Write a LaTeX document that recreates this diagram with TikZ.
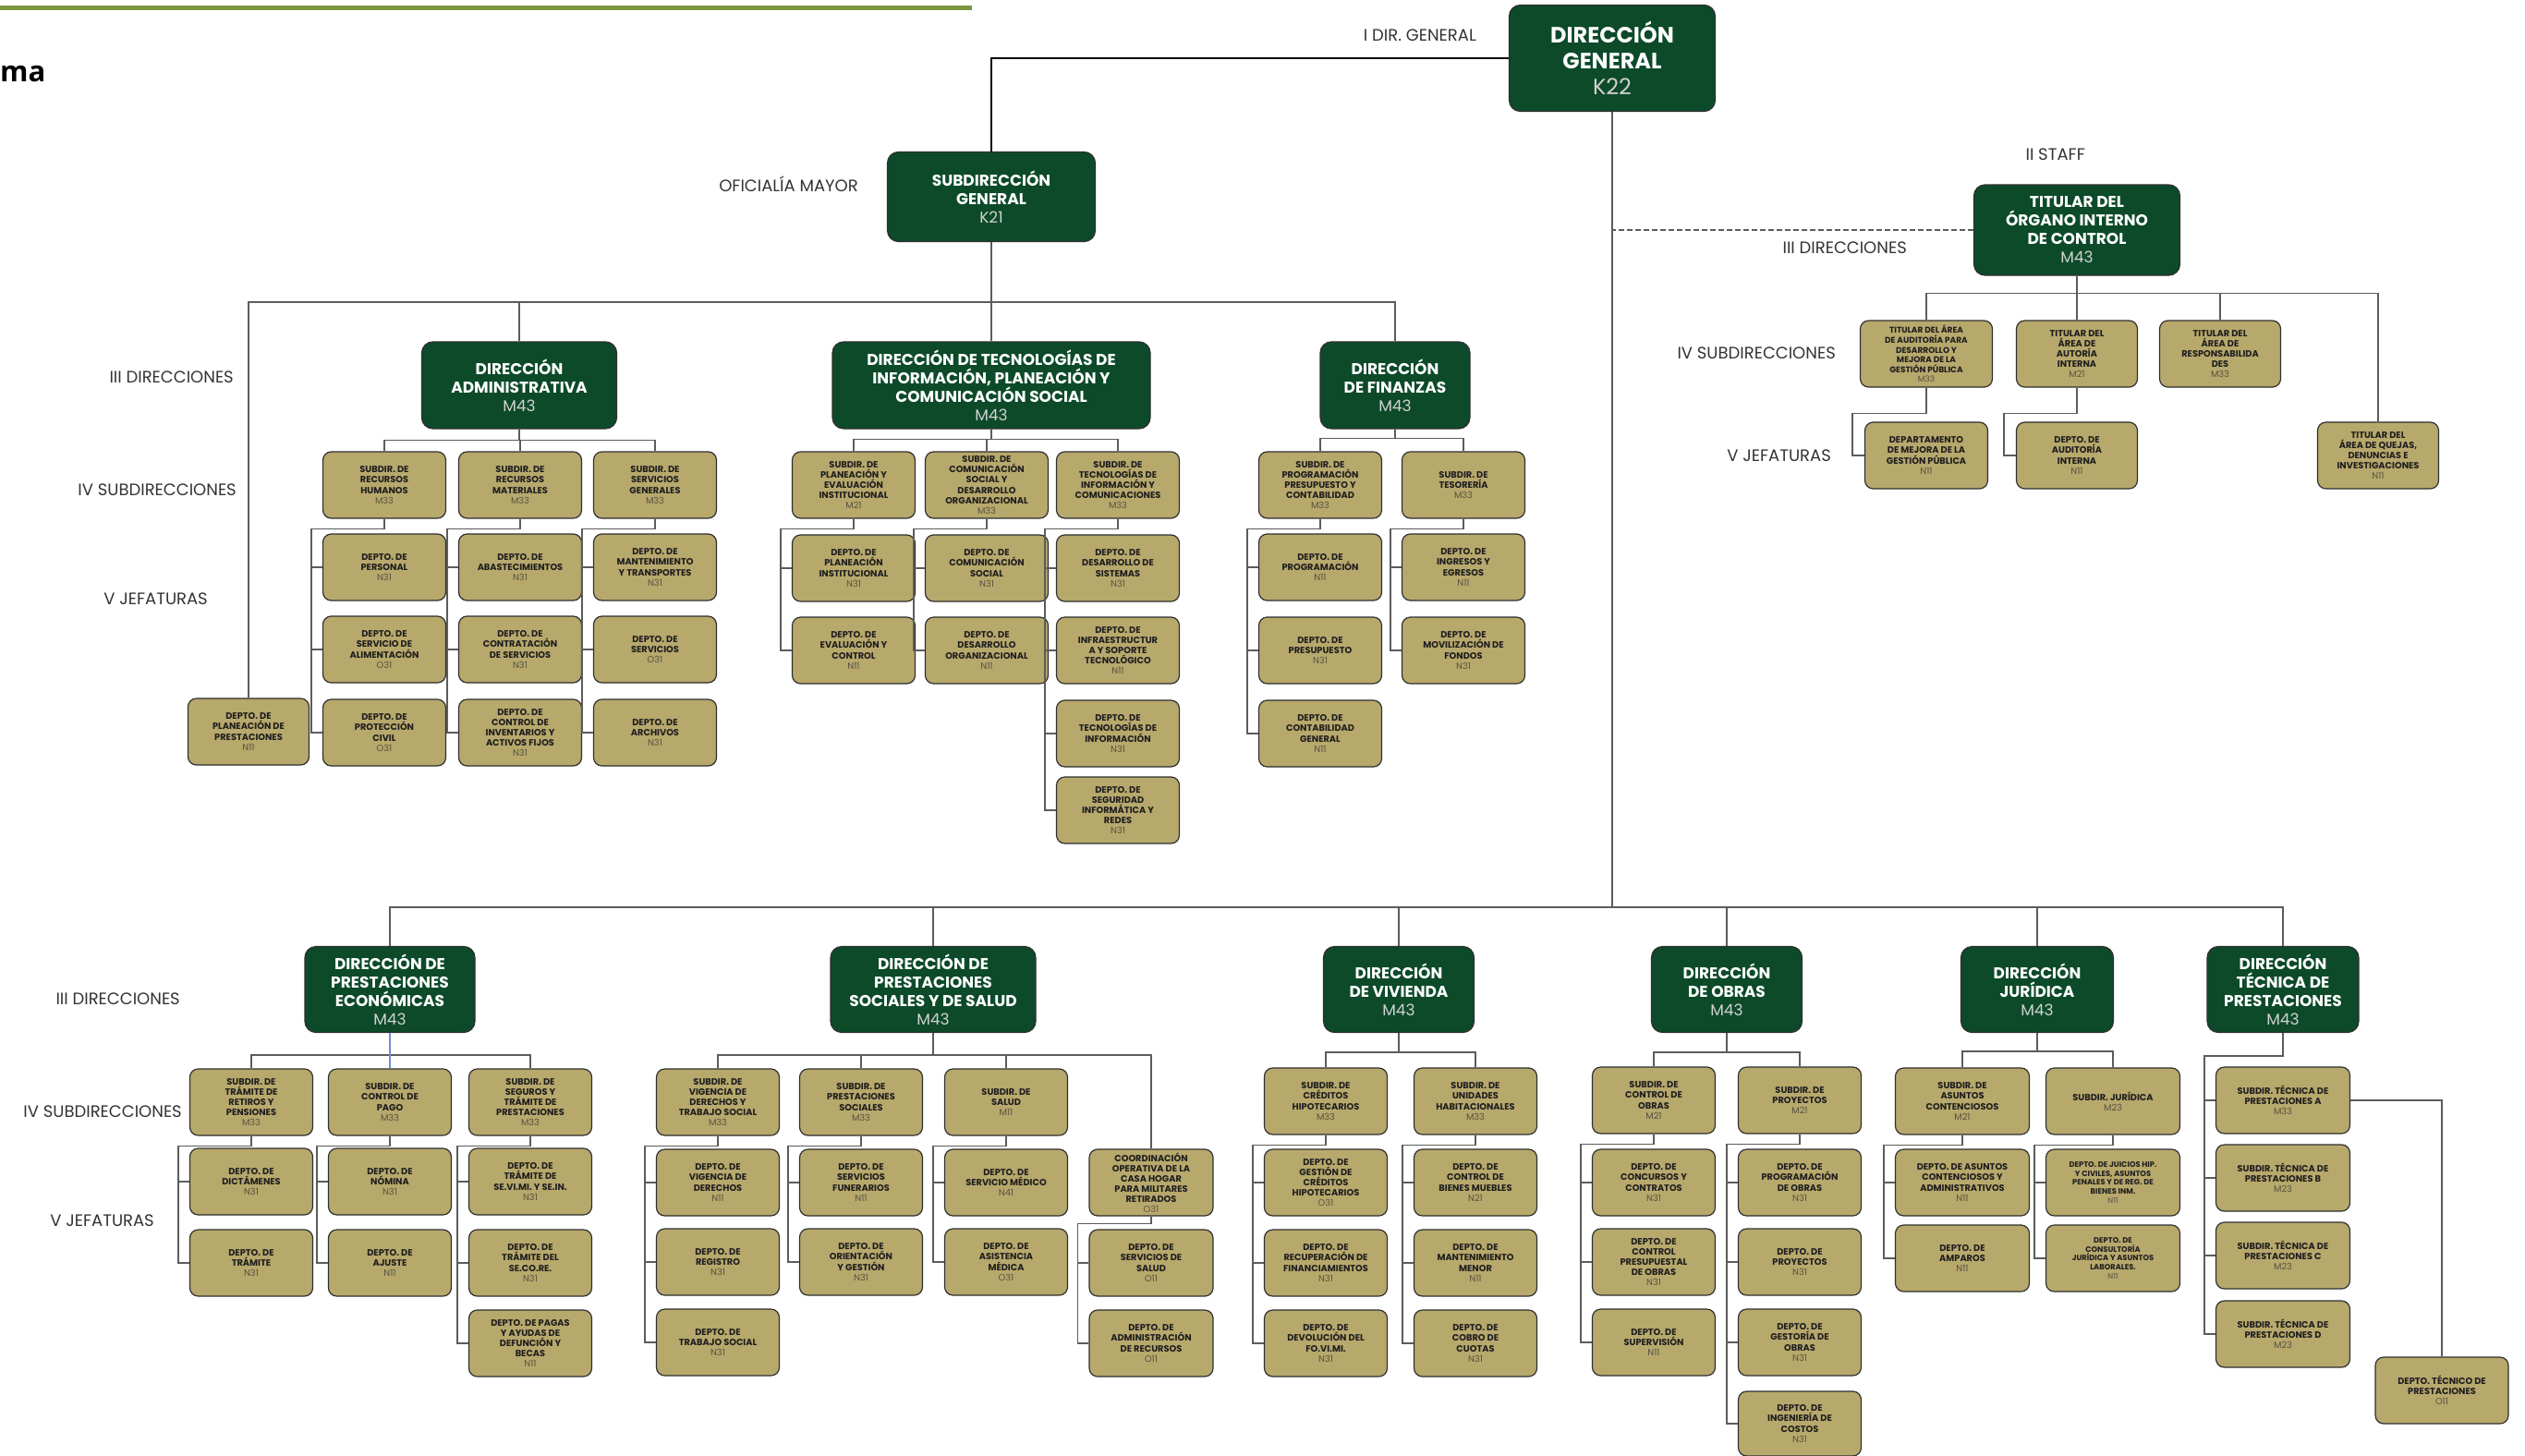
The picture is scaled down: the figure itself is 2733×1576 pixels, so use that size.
\documentclass[tikz,border=0pt]{standalone}
\usepackage{fontspec}
\setmainfont{Poppins}
\newfontfamily\osans{Open Sans}
\usetikzlibrary{calc}
\definecolor{boxtan}{HTML}{B7A86C}
\definecolor{dgreen}{HTML}{0C4A2A}
\definecolor{bdr}{HTML}{2F2F2F}
\definecolor{lgray}{HTML}{5C5C5C}
\definecolor{codegray}{HTML}{57533F}
\definecolor{txt}{HTML}{1E1E1E}
\definecolor{lbltxt}{HTML}{333333}
\definecolor{titlegreen}{HTML}{7A963F}
\definecolor{bluel}{HTML}{6D8FD8}
\newcommand\cde[1]{\\{\mdseries\color{codegray}#1}}
\newcommand\gcode[1]{\\{\mdseries\color{white!82!black}#1}}
\newcommand\dlist[4][11]{%
  \draw[conn] (#2.south) -- ++(0,#1) -| ([xshift=-12pt]#3.west) -- (#3.west);
  \foreach \dd in {#4} {\draw[conn] ([xshift=-12pt]\dd.west) -- (\dd.west);}
}
\begin{document}
\begin{tikzpicture}[x=1pt,y=-1pt,
  tb/.style={draw=bdr, line width=1.2pt, fill=boxtan, rounded corners=9pt,
    minimum width=133pt, minimum height=72pt, inner sep=1pt, align=center,
    font=\fontsize{9.8}{11.1}\selectfont\bfseries, text=txt},
  tbs/.style={tb, font=\fontsize{8.3}{9.8}\selectfont\bfseries},
  gb/.style={draw=bdr, line width=1.2pt, fill=dgreen, rounded corners=12pt,
    align=center, text=white, font=\fontsize{17}{20}\selectfont\bfseries, inner sep=2pt},
  conn/.style={draw=lgray, line width=1.6pt},
  topline/.style={draw=black, line width=2pt},
  lbl/.style={font=\fontsize{18}{20}\selectfont, text=lbltxt, anchor=east, inner sep=0pt}]
\useasboundingbox (0,0) rectangle (2733,1576);
\fill[white] (0,0) rectangle (2733,1576);
\draw[line width=5pt, titlegreen] (0,9) -- (1052,9);
\node[anchor=west, inner sep=0pt, font=\osans\bfseries\fontsize{31}{34}\selectfont] (ttl) at (0,80) {ma};

% ---------- labels
\node[lbl] (l1) at (1598,38) {I DIR. GENERAL};
\node[lbl] (l2) at (929,199) {OFICIALÍA MAYOR};
\node[lbl] (l3) at (2257,167) {II STAFF};
\node[lbl] (l4) at (2064,268) {III DIRECCIONES};
\node[lbl] (l5) at (253,408) {III DIRECCIONES};
\node[lbl] (l6) at (256,530) {IV SUBDIRECCIONES};
\node[lbl] (l7) at (225,648) {V JEFATURAS};
\node[lbl] (l8) at (1987,382) {IV SUBDIRECCIONES};
\node[lbl] (l9) at (1982,493) {V JEFATURAS};
\node[lbl] (l10) at (195,1081) {III DIRECCIONES};
\node[lbl] (l11) at (197,1203) {IV SUBDIRECCIONES};
\node[lbl] (l12) at (167,1321) {V JEFATURAS};

% ---------- top green boxes
\node[gb, minimum width=223pt, minimum height=115pt, font=\fontsize{24}{28}\selectfont\bfseries] (dg) at (1745,63) {DIRECCIÓN\\GENERAL\gcode{K22}};
\node[gb, minimum width=225pt, minimum height=97pt] (sg) at (1073,213) {SUBDIRECCIÓN\\GENERAL\gcode{K21}};
\node[gb, minimum width=223pt, minimum height=98pt] (oic) at (2248,249) {TITULAR DEL\\ÓRGANO INTERNO\\DE CONTROL\gcode{M43}};
\node[gb, minimum width=211pt, minimum height=94pt] (adm) at (562,417) {DIRECCIÓN\\ADMINISTRATIVA\gcode{M43}};
\node[gb, minimum width=344pt, minimum height=94pt] (dti) at (1073,417) {DIRECCIÓN DE TECNOLOGÍAS DE\\INFORMACIÓN, PLANEACIÓN Y\\COMUNICACIÓN SOCIAL\gcode{M43}};
\node[gb, minimum width=162pt, minimum height=94pt] (fin) at (1510,417) {DIRECCIÓN\\DE FINANZAS\gcode{M43}};

% ---------- administrativa
\node[tb, minimum width=131pt] (pp) at (269,792) {DEPTO. DE\\PLANEACIÓN DE\\PRESTACIONES\cde{N11}};
\node[tb] (a1) at (416,525) {SUBDIR. DE\\RECURSOS\\HUMANOS\cde{M33}};
\node[tb] (a2) at (563,525) {SUBDIR. DE\\RECURSOS\\MATERIALES\cde{M33}};
\node[tb] (a3) at (709,525) {SUBDIR. DE\\SERVICIOS\\GENERALES\cde{M33}};
\node[tb] (a1a) at (416,614) {DEPTO. DE\\PERSONAL\cde{N31}};
\node[tb] (a1b) at (416,703) {DEPTO. DE\\SERVICIO DE\\ALIMENTACIÓN\cde{O31}};
\node[tb] (a1c) at (416,793) {DEPTO. DE\\PROTECCIÓN\\CIVIL\cde{O31}};
\node[tb] (a2a) at (563,614) {DEPTO. DE\\ABASTECIMIENTOS\cde{N31}};
\node[tb] (a2b) at (563,703) {DEPTO. DE\\CONTRATACIÓN\\DE SERVICIOS\cde{N31}};
\node[tb] (a2c) at (563,793) {DEPTO. DE\\CONTROL DE\\INVENTARIOS Y\\ACTIVOS FIJOS\cde{N31}};
\node[tb] (a3a) at (709,614) {DEPTO. DE\\MANTENIMIENTO\\Y TRANSPORTES\cde{N31}};
\node[tb] (a3b) at (709,703) {DEPTO. DE\\SERVICIOS\cde{O31}};
\node[tb] (a3c) at (709,793) {DEPTO. DE\\ARCHIVOS\cde{N31}};

% ---------- tecnologias
\node[tb] (t1) at (924,525) {SUBDIR. DE\\PLANEACIÓN Y\\EVALUACIÓN\\INSTITUCIONAL\cde{M21}};
\node[tb] (t2) at (1068,525) {SUBDIR. DE\\COMUNICACIÓN\\SOCIAL Y\\DESARROLLO\\ORGANIZACIONAL\cde{M33}};
\node[tb] (t3) at (1210,525) {SUBDIR. DE\\TECNOLOGÍAS DE\\INFORMACIÓN Y\\COMUNICACIONES\cde{M33}};
\node[tb] (t1a) at (924,615) {DEPTO. DE\\PLANEACIÓN\\INSTITUCIONAL\cde{N31}};
\node[tb] (t1b) at (924,704) {DEPTO. DE\\EVALUACIÓN Y\\CONTROL\cde{N11}};
\node[tb] (t2a) at (1068,615) {DEPTO. DE\\COMUNICACIÓN\\SOCIAL\cde{N31}};
\node[tb] (t2b) at (1068,704) {DEPTO. DE\\DESARROLLO\\ORGANIZACIONAL\cde{N11}};
\node[tb] (t3a) at (1210,615) {DEPTO. DE\\DESARROLLO DE\\SISTEMAS\cde{N31}};
\node[tb] (t3b) at (1210,704) {DEPTO. DE\\INFRAESTRUCTUR\\A Y SOPORTE\\TECNOLÓGICO\cde{N11}};
\node[tb] (t3c) at (1210,794) {DEPTO. DE\\TECNOLOGÍAS DE\\INFORMACIÓN\cde{N31}};
\node[tb] (t3d) at (1210,877) {DEPTO. DE\\SEGURIDAD\\INFORMÁTICA Y\\REDES\cde{N31}};

% ---------- finanzas
\node[tb] (f1) at (1429,525) {SUBDIR. DE\\PROGRAMACIÓN\\PRESUPUESTO Y\\CONTABILIDAD\cde{M33}};
\node[tb] (f2) at (1584,525) {SUBDIR. DE\\TESORERÍA\cde{M33}};
\node[tb] (f1a) at (1429,614) {DEPTO. DE\\PROGRAMACIÓN\cde{N11}};
\node[tb] (f1b) at (1429,704) {DEPTO. DE\\PRESUPUESTO\cde{N31}};
\node[tb] (f1c) at (1429,794) {DEPTO. DE\\CONTABILIDAD\\GENERAL\cde{N11}};
\node[tb] (f2a) at (1584,614) {DEPTO. DE\\INGRESOS Y\\EGRESOS\cde{N11}};
\node[tb] (f2b) at (1584,704) {DEPTO. DE\\MOVILIZACIÓN DE\\FONDOS\cde{N31}};

% ---------- organo interno de control
\node[tb, minimum width=143pt, font=\fontsize{9}{10.6}\selectfont\bfseries] (o1) at (2085,383) {TITULAR DEL ÁREA\\DE AUDITORÍA PARA\\DESARROLLO Y\\MEJORA DE LA\\GESTIÓN PÚBLICA\cde{M33}};
\node[tb, minimum width=131pt] (o2) at (2248,383) {TITULAR DEL\\ÁREA DE\\AUTORÍA\\INTERNA\cde{M21}};
\node[tb, minimum width=131pt] (o3) at (2403,383) {TITULAR DEL\\ÁREA DE\\RESPONSABILIDA\\DES\cde{M33}};
\node[tb] (oj1) at (2085,493) {DEPARTAMENTO\\DE MEJORA DE LA\\GESTIÓN PÚBLICA\cde{N11}};
\node[tb, minimum width=131pt] (oj2) at (2248,493) {DEPTO. DE\\AUDITORÍA\\INTERNA\cde{N11}};
\node[tb, minimum width=131pt] (o4) at (2574,493) {TITULAR DEL\\ÁREA DE QUEJAS,\\DENUNCIAS E\\INVESTIGACIONES\cde{N11}};

% ---------- bottom green boxes
\node[gb, minimum width=184pt, minimum height=93pt] (pe) at (422,1071) {DIRECCIÓN DE\\PRESTACIONES\\ECONÓMICAS\gcode{M43}};
\node[gb, minimum width=222pt, minimum height=93pt] (ps) at (1010,1071) {DIRECCIÓN DE\\PRESTACIONES\\SOCIALES Y DE SALUD\gcode{M43}};
\node[gb, minimum width=163pt, minimum height=93pt] (vi) at (1514,1071) {DIRECCIÓN\\DE VIVIENDA\gcode{M43}};
\node[gb, minimum width=163pt, minimum height=93pt] (ob) at (1869,1071) {DIRECCIÓN\\DE OBRAS\gcode{M43}};
\node[gb, minimum width=165pt, minimum height=93pt] (ju) at (2205,1071) {DIRECCIÓN\\JURÍDICA\gcode{M43}};
\node[gb, minimum width=164pt, minimum height=93pt] (te) at (2471,1071) {DIRECCIÓN\\TÉCNICA DE\\PRESTACIONES\gcode{M43}};

% ---------- prestaciones economicas
\node[tb] (pe1) at (272,1193) {SUBDIR. DE\\TRÁMITE DE\\RETIROS Y\\PENSIONES\cde{M33}};
\node[tb] (pe2) at (422,1193) {SUBDIR. DE\\CONTROL DE\\PAGO\cde{M33}};
\node[tb] (pe3) at (574,1193) {SUBDIR. DE\\SEGUROS Y\\TRÁMITE DE\\PRESTACIONES\cde{M33}};
\node[tb] (pe1a) at (272,1279) {DEPTO. DE\\DICTÁMENES\cde{N31}};
\node[tb] (pe1b) at (272,1367) {DEPTO. DE\\TRÁMITE\cde{N31}};
\node[tb] (pe2a) at (422,1279) {DEPTO. DE\\NÓMINA\cde{N31}};
\node[tb] (pe2b) at (422,1367) {DEPTO. DE\\AJUSTE\cde{N11}};
\node[tb] (pe3a) at (574,1279) {DEPTO. DE\\TRÁMITE DE\\SE.VI.MI. Y SE.IN.\cde{N31}};
\node[tb] (pe3b) at (574,1367) {DEPTO. DE\\TRÁMITE DEL\\SE.CO.RE.\cde{N31}};
\node[tb] (pe3c) at (574,1454) {DEPTO. DE PAGAS\\Y AYUDAS DE\\DEFUNCIÓN Y\\BECAS\cde{N11}};

% ---------- prestaciones sociales
\node[tb] (ps1) at (777,1193) {SUBDIR. DE\\VIGENCIA DE\\DERECHOS Y\\TRABAJO SOCIAL\cde{M33}};
\node[tb] (ps2) at (932,1193) {SUBDIR. DE\\PRESTACIONES\\SOCIALES\cde{M33}};
\node[tb] (ps3) at (1089,1193) {SUBDIR. DE\\SALUD\cde{M11}};
\node[tb, minimum width=134pt] (ps4) at (1246,1280) {COORDINACIÓN\\OPERATIVA DE LA\\CASA HOGAR\\PARA MILITARES\\RETIRADOS\cde{O31}};
\node[tb] (ps1a) at (777,1280) {DEPTO. DE\\VIGENCIA DE\\DERECHOS\cde{N11}};
\node[tb] (ps1b) at (777,1366) {DEPTO. DE\\REGISTRO\cde{N31}};
\node[tb] (ps1c) at (777,1453) {DEPTO. DE\\TRABAJO SOCIAL\cde{N31}};
\node[tb] (ps2a) at (932,1280) {DEPTO. DE\\SERVICIOS\\FUNERARIOS\cde{N11}};
\node[tb] (ps2b) at (932,1366) {DEPTO. DE\\ORIENTACIÓN\\Y GESTIÓN\cde{N31}};
\node[tb] (ps3a) at (1089,1280) {DEPTO. DE\\SERVICIO MÉDICO\cde{N41}};
\node[tb] (ps3b) at (1089,1366) {DEPTO. DE\\ASISTENCIA\\MÉDICA\cde{O31}};
\node[tb, minimum width=134pt] (ps4a) at (1246,1367) {DEPTO. DE\\SERVICIOS DE\\SALUD\cde{O11}};
\node[tb, minimum width=134pt] (ps4b) at (1246,1454) {DEPTO. DE\\ADMINISTRACIÓN\\DE RECURSOS\cde{O11}};

% ---------- vivienda
\node[tb] (vi1) at (1435,1192) {SUBDIR. DE\\CRÉDITOS\\HIPOTECARIOS\cde{M33}};
\node[tb] (vi2) at (1597,1192) {SUBDIR. DE\\UNIDADES\\HABITACIONALES\cde{M33}};
\node[tb] (vi1a) at (1435,1280) {DEPTO. DE\\GESTIÓN DE\\CRÉDITOS\\HIPOTECARIOS\cde{O31}};
\node[tb] (vi1b) at (1435,1367) {DEPTO. DE\\RECUPERACIÓN DE\\FINANCIAMIENTOS\cde{N31}};
\node[tb] (vi1c) at (1435,1454) {DEPTO. DE\\DEVOLUCIÓN DEL\\FO.VI.MI.\cde{N31}};
\node[tb] (vi2a) at (1597,1280) {DEPTO. DE\\CONTROL DE\\BIENES MUEBLES\cde{N21}};
\node[tb] (vi2b) at (1597,1367) {DEPTO. DE\\MANTENIMIENTO\\MENOR\cde{N11}};
\node[tb] (vi2c) at (1597,1454) {DEPTO. DE\\COBRO DE\\CUOTAS\cde{N31}};

% ---------- obras
\node[tb] (ob1) at (1790,1191) {SUBDIR. DE\\CONTROL DE\\OBRAS\cde{M21}};
\node[tb] (ob2) at (1948,1191) {SUBDIR. DE\\PROYECTOS\cde{M21}};
\node[tb] (ob1a) at (1790,1280) {DEPTO. DE\\CONCURSOS Y\\CONTRATOS\cde{N31}};
\node[tb] (ob1b) at (1790,1366) {DEPTO. DE\\CONTROL\\PRESUPUESTAL\\DE OBRAS\cde{N31}};
\node[tb] (ob1c) at (1790,1453) {DEPTO. DE\\SUPERVISIÓN\cde{N11}};
\node[tb] (ob2a) at (1948,1280) {DEPTO. DE\\PROGRAMACIÓN\\DE OBRAS\cde{N31}};
\node[tb] (ob2b) at (1948,1366) {DEPTO. DE\\PROYECTOS\cde{N31}};
\node[tb] (ob2c) at (1948,1453) {DEPTO. DE\\GESTORÍA DE\\OBRAS\cde{N31}};
\node[tb, minimum height=70pt] (ob2d) at (1948,1541) {DEPTO. DE\\INGENIERÍA DE\\COSTOS\cde{N31}};

% ---------- juridica
\node[tb, minimum width=145pt] (ju1) at (2124,1192) {SUBDIR. DE\\ASUNTOS\\CONTENCIOSOS\cde{M21}};
\node[tb, minimum width=145pt] (ju2) at (2287,1192) {SUBDIR. JURÍDICA\cde{M23}};
\node[tb, minimum width=145pt] (ju1a) at (2124,1280) {DEPTO. DE ASUNTOS\\CONTENCIOSOS Y\\ADMINISTRATIVOS\cde{N11}};
\node[tb, minimum width=145pt] (ju1b) at (2124,1362) {DEPTO. DE\\AMPAROS\cde{N11}};
\node[tbs, minimum width=145pt] (ju2a) at (2287,1280) {DEPTO. DE JUICIOS HIP.\\Y CIVILES, ASUNTOS\\PENALES Y DE REG. DE\\BIENES INM.\cde{N11}};
\node[tbs, minimum width=145pt] (ju2b) at (2287,1362) {DEPTO. DE\\CONSULTORÍA\\JURÍDICA Y ASUNTOS\\LABORALES.\cde{N11}};

% ---------- tecnica
\node[tb, minimum width=145pt] (te1) at (2471,1191) {SUBDIR. TÉCNICA DE\\PRESTACIONES A\cde{M33}};
\node[tb, minimum width=145pt] (te2) at (2471,1275) {SUBDIR. TÉCNICA DE\\PRESTACIONES B\cde{M23}};
\node[tb, minimum width=145pt] (te3) at (2471,1359) {SUBDIR. TÉCNICA DE\\PRESTACIONES C\cde{M23}};
\node[tb, minimum width=145pt] (te4) at (2471,1444) {SUBDIR. TÉCNICA DE\\PRESTACIONES D\cde{M23}};
\node[tb, minimum width=144pt] (ted) at (2643,1505) {DEPTO. TÉCNICO DE\\PRESTACIONES\cde{O11}};

% ================= connectors
\draw[topline] (dg.west) -| (sg.north);
\draw[conn] (sg.south) -- ++(0,65) coordinate (sgb);
\draw[conn] (pp.north) |- (sgb) -| (fin.north);
\draw[conn] (adm.north) -- (adm.north |- sgb);
\draw[conn] (dti.north) -- (sgb);

\draw[conn] (adm.south) -- ++(0,12) coordinate (admb);
\draw[conn] (a1.north) |- (admb) -| (a3.north);
\draw[conn] (a2.north) -- (a2.north |- admb);
\dlist{a1}{a1c}{a1a,a1b}
\dlist{a2}{a2c}{a2a,a2b}
\dlist{a3}{a3c}{a3a,a3b}

\draw[conn] (dti.south) -- ++(0,11) coordinate (dtib);
\draw[conn] (t1.north) |- (dtib) -| (t3.north);
\draw[conn] (t2.north) -- (t2.north |- dtib);
\dlist{t1}{t1b}{t1a}
\dlist{t2}{t2b}{t2a}
\dlist{t3}{t3d}{t3a,t3b,t3c}

\draw[conn] (fin.south) -- ++(0,10) coordinate (finb);
\draw[conn] (f1.north) |- (finb) -| (f2.north);
\dlist{f1}{f1c}{f1a,f1b}
\dlist{f2}{f2b}{f2a}

% organo interno de control
\draw[conn, dash pattern=on 6pt off 3pt] (oic.west) -- (oic.west -| dg.south);
\draw[conn] (oic.south) -- ++(0,19) coordinate (oicb);
\draw[conn] (o1.north) |- (oicb) -| (o4.north);
\draw[conn] (o2.north) -- (o2.north |- oicb);
\draw[conn] (o3.north) -- (o3.north |- oicb);
\draw[conn] (o1.south) -- ++(0,28) -| ([xshift=-13pt]oj1.west) -- (oj1.west);
\draw[conn] (o2.south) -- ++(0,28) -| ([xshift=-13pt]oj2.west) -- (oj2.west);

% main bus
\draw[conn] (dg.south) -- ++(0,861) coordinate (mb);
\draw[conn] (pe.north) |- (mb) -| (te.north);
\draw[conn] (ps.north) -- (ps.north |- mb);
\draw[conn] (vi.north) -- (vi.north |- mb);
\draw[conn] (ob.north) -- (ob.north |- mb);
\draw[conn] (ju.north) -- (ju.north |- mb);

% prestaciones economicas
\draw[conn] (pe.south) -- ++(0,24) coordinate (peb);
\draw[conn] (pe1.north) |- (peb) -| (pe3.north);
\draw[draw=bluel, line width=1.6pt] (pe.south) -- (pe2.north);
\dlist{pe1}{pe1b}{pe1a}
\dlist{pe2}{pe2b}{pe2a}
\dlist{pe3}{pe3c}{pe3a,pe3b}

% prestaciones sociales
\draw[conn] (ps.south) -- ++(0,24) coordinate (psb);
\draw[conn] (ps1.north) |- (psb) -| (ps4.north);
\draw[conn] (ps2.north) -- (ps2.north |- psb);
\draw[conn] (ps3.north) -- (ps3.north |- psb);
\dlist{ps1}{ps1c}{ps1a,ps1b}
\dlist{ps2}{ps2b}{ps2a}
\dlist{ps3}{ps3b}{ps3a}
\dlist[8]{ps4}{ps4b}{ps4a}

% vivienda
\draw[conn] (vi.south) -- ++(0,21) coordinate (vib);
\draw[conn] (vi1.north) |- (vib) -| (vi2.north);
\dlist{vi1}{vi1c}{vi1a,vi1b}
\dlist{vi2}{vi2c}{vi2a,vi2b}

% obras
\draw[conn] (ob.south) -- ++(0,21) coordinate (obb);
\draw[conn] (ob1.north) |- (obb) -| (ob2.north);
\dlist{ob1}{ob1c}{ob1a,ob1b}
\dlist{ob2}{ob2d}{ob2a,ob2b,ob2c}

% juridica
\draw[conn] (ju.south) -- ++(0,20) coordinate (jub);
\draw[conn] (ju1.north) |- (jub) -| (ju2.north);
\dlist{ju1}{ju1b}{ju1a}
\dlist{ju2}{ju2b}{ju2a}

% tecnica
\draw[conn] (te.south) -- ++(0,25) -| ([xshift=-12pt]te4.west) -- (te4.west);
\foreach \dd in {te1,te2,te3} {\draw[conn] ([xshift=-12pt]\dd.west) -- (\dd.west);}
\draw[conn] (te1.east) -| (ted.north);
\end{tikzpicture}
\end{document}
